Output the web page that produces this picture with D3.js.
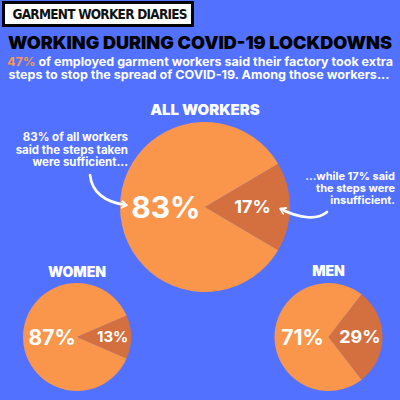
<!DOCTYPE html>
<html>
<head>
<meta charset="utf-8">
<script src="https://cdn.jsdelivr.net/npm/d3@7"></script>
<style>
  body { margin: 0; background: #5271ff; }
  svg { display: block; }
  text { font-family: "Inter", "Open Sans", sans-serif; }
</style>
</head>
<body>
<div id="chart"></div>
<script>
// Data
const groups = ["ALL WORKERS", "WOMEN", "MEN"];
const sufficient = [83, 87, 71];
const insufficient = [17, 13, 29];
const employedShare = 47;

const width = 400, height = 400;
const blue = "#5271ff", light = "#f9964b", dark = "#d4703f";

const svg = d3.select("#chart").append("svg")
  .attr("width", width)
  .attr("height", height);

svg.append("rect").attr("width", width).attr("height", height).attr("fill", blue);

// Header box
svg.append("rect")
  .attr("x", 3.5).attr("y", 2.5)
  .attr("width", 189).attr("height", 23)
  .attr("fill", "#fff").attr("stroke", "#000").attr("stroke-width", 3);
svg.append("text")
  .attr("x", 100).attr("y", 19)
  .attr("text-anchor", "middle")
  .attr("textLength", 175).attr("lengthAdjust", "spacing")
  .style("font-family", "'Liberation Sans Narrow', 'DejaVu Sans Condensed', sans-serif")
  .style("font-weight", 700)
  .style("font-size", "13.5px")
  .attr("fill", "#111")
  .text("GARMENT WORKER DIARIES");

// Title
svg.append("text")
  .attr("x", 200).attr("y", 49)
  .attr("text-anchor", "middle")
  .attr("textLength", 384).attr("lengthAdjust", "spacingAndGlyphs")
  .style("font-weight", 900)
  .style("font-size", "18px")
  .attr("fill", "#000")
  .text("WORKING DURING COVID-19 LOCKDOWNS");

// Subtitle
const sub1 = svg.append("text")
  .attr("x", 200).attr("y", 66)
  .attr("text-anchor", "middle")
  .attr("textLength", 386).attr("lengthAdjust", "spacingAndGlyphs")
  .style("font-weight", 700).style("font-size", "12px")
  .attr("fill", "#fff");
sub1.append("tspan").attr("fill", light).text(employedShare + "%");
sub1.append("tspan").text(" of employed garment workers said their factory took extra");
svg.append("text")
  .attr("x", 199).attr("y", 79)
  .attr("text-anchor", "middle")
  .attr("textLength", 381).attr("lengthAdjust", "spacingAndGlyphs")
  .style("font-weight", 700).style("font-size", "12px")
  .attr("fill", "#fff")
  .text("steps to stop the spread of COVID-19. Among those workers...");

// Pie layout per group
const layout = [
  { cx: 205, cy: 207, r: 85, titleY: 115, titleSize: 15, bigSize: 30, smallSize: 18, bigOff: -0.46, smallOff: 0.56 },
  { cx: 77, cy: 337, r: 54, titleY: 277, titleSize: 14, bigSize: 21, smallSize: 15, bigOff: -0.46, smallOff: 0.66 },
  { cx: 328.5, cy: 337, r: 54, titleY: 276, titleSize: 14, bigSize: 21, smallSize: 18, bigOff: -0.48, smallOff: 0.58 }
];

const arc = d3.arc().innerRadius(0);

groups.forEach((name, i) => {
  const L = layout[i];
  const a = 2 * Math.PI * insufficient[i] / 100;
  const pie = d3.pie().sort(null)
    .startAngle(Math.PI / 2 - a / 2)
    .endAngle(Math.PI / 2 - a / 2 + 2 * Math.PI);
  const slices = pie([insufficient[i], sufficient[i]]);

  const g = svg.append("g").attr("transform", `translate(${L.cx},${L.cy})`);
  g.selectAll("path")
    .data(slices)
    .enter().append("path")
    .attr("d", d => arc.outerRadius(L.r)(d))
    .attr("fill", (d, j) => j === 0 ? dark : light);

  g.append("text")
    .attr("x", L.bigOff * L.r).attr("y", L.bigSize * 0.36)
    .attr("text-anchor", "middle")
    .style("font-weight", 700).style("font-size", L.bigSize + "px")
    .attr("fill", "#fff")
    .text(sufficient[i] + "%");
  g.append("text")
    .attr("x", L.smallOff * L.r).attr("y", L.smallSize * 0.36)
    .attr("text-anchor", "middle")
    .style("font-weight", 700).style("font-size", L.smallSize + "px")
    .attr("fill", "#fff")
    .text(insufficient[i] + "%");

  svg.append("text")
    .attr("x", L.cx).attr("y", L.titleY)
    .attr("text-anchor", "middle")
    .style("font-weight", 900).style("font-size", L.titleSize + "px")
    .attr("fill", "#fff")
    .text(name);
});

// Annotations
const leftNote = ["83% of all workers", "said the steps taken", "were sufficient..."];
const rightNote = ["...while 17% said", "the steps were", "insufficient."];

svg.append("g").selectAll("text")
  .data(leftNote).enter().append("text")
  .attr("x", 128).attr("y", (d, i) => 141 + i * 12.5)
  .attr("text-anchor", "end")
  .style("font-weight", 700).style("font-size", "11.5px")
  .attr("fill", "#fff")
  .text(d => d);

svg.append("g").selectAll("text")
  .data(rightNote).enter().append("text")
  .attr("x", 395).attr("y", (d, i) => 180 + i * 12)
  .attr("text-anchor", "end")
  .style("font-weight", 700).style("font-size", "11px")
  .attr("fill", "#fff")
  .text(d => d);

// Arrows
const defs = svg.append("defs");
defs.append("marker")
  .attr("id", "head")
  .attr("viewBox", "0 0 10 10")
  .attr("refX", 6).attr("refY", 5)
  .attr("markerWidth", 3.2).attr("markerHeight", 3.2)
  .attr("orient", "auto")
  .append("path")
  .attr("d", "M1,1 L7,5 L1,9")
  .attr("fill", "none").attr("stroke", "#fff").attr("stroke-width", 2.2)
  .attr("stroke-linecap", "round").attr("stroke-linejoin", "round");

svg.append("path")
  .attr("d", "M90,175 C92,192 104,202 126,205")
  .attr("fill", "none").attr("stroke", "#fff").attr("stroke-width", 2.6)
  .attr("stroke-linecap", "round")
  .attr("marker-end", "url(#head)");

svg.append("path")
  .attr("d", "M327,212 C318,220 300,219 281,209")
  .attr("fill", "none").attr("stroke", "#fff").attr("stroke-width", 2.6)
  .attr("stroke-linecap", "round")
  .attr("marker-end", "url(#head)");
</script>
</body>
</html>
